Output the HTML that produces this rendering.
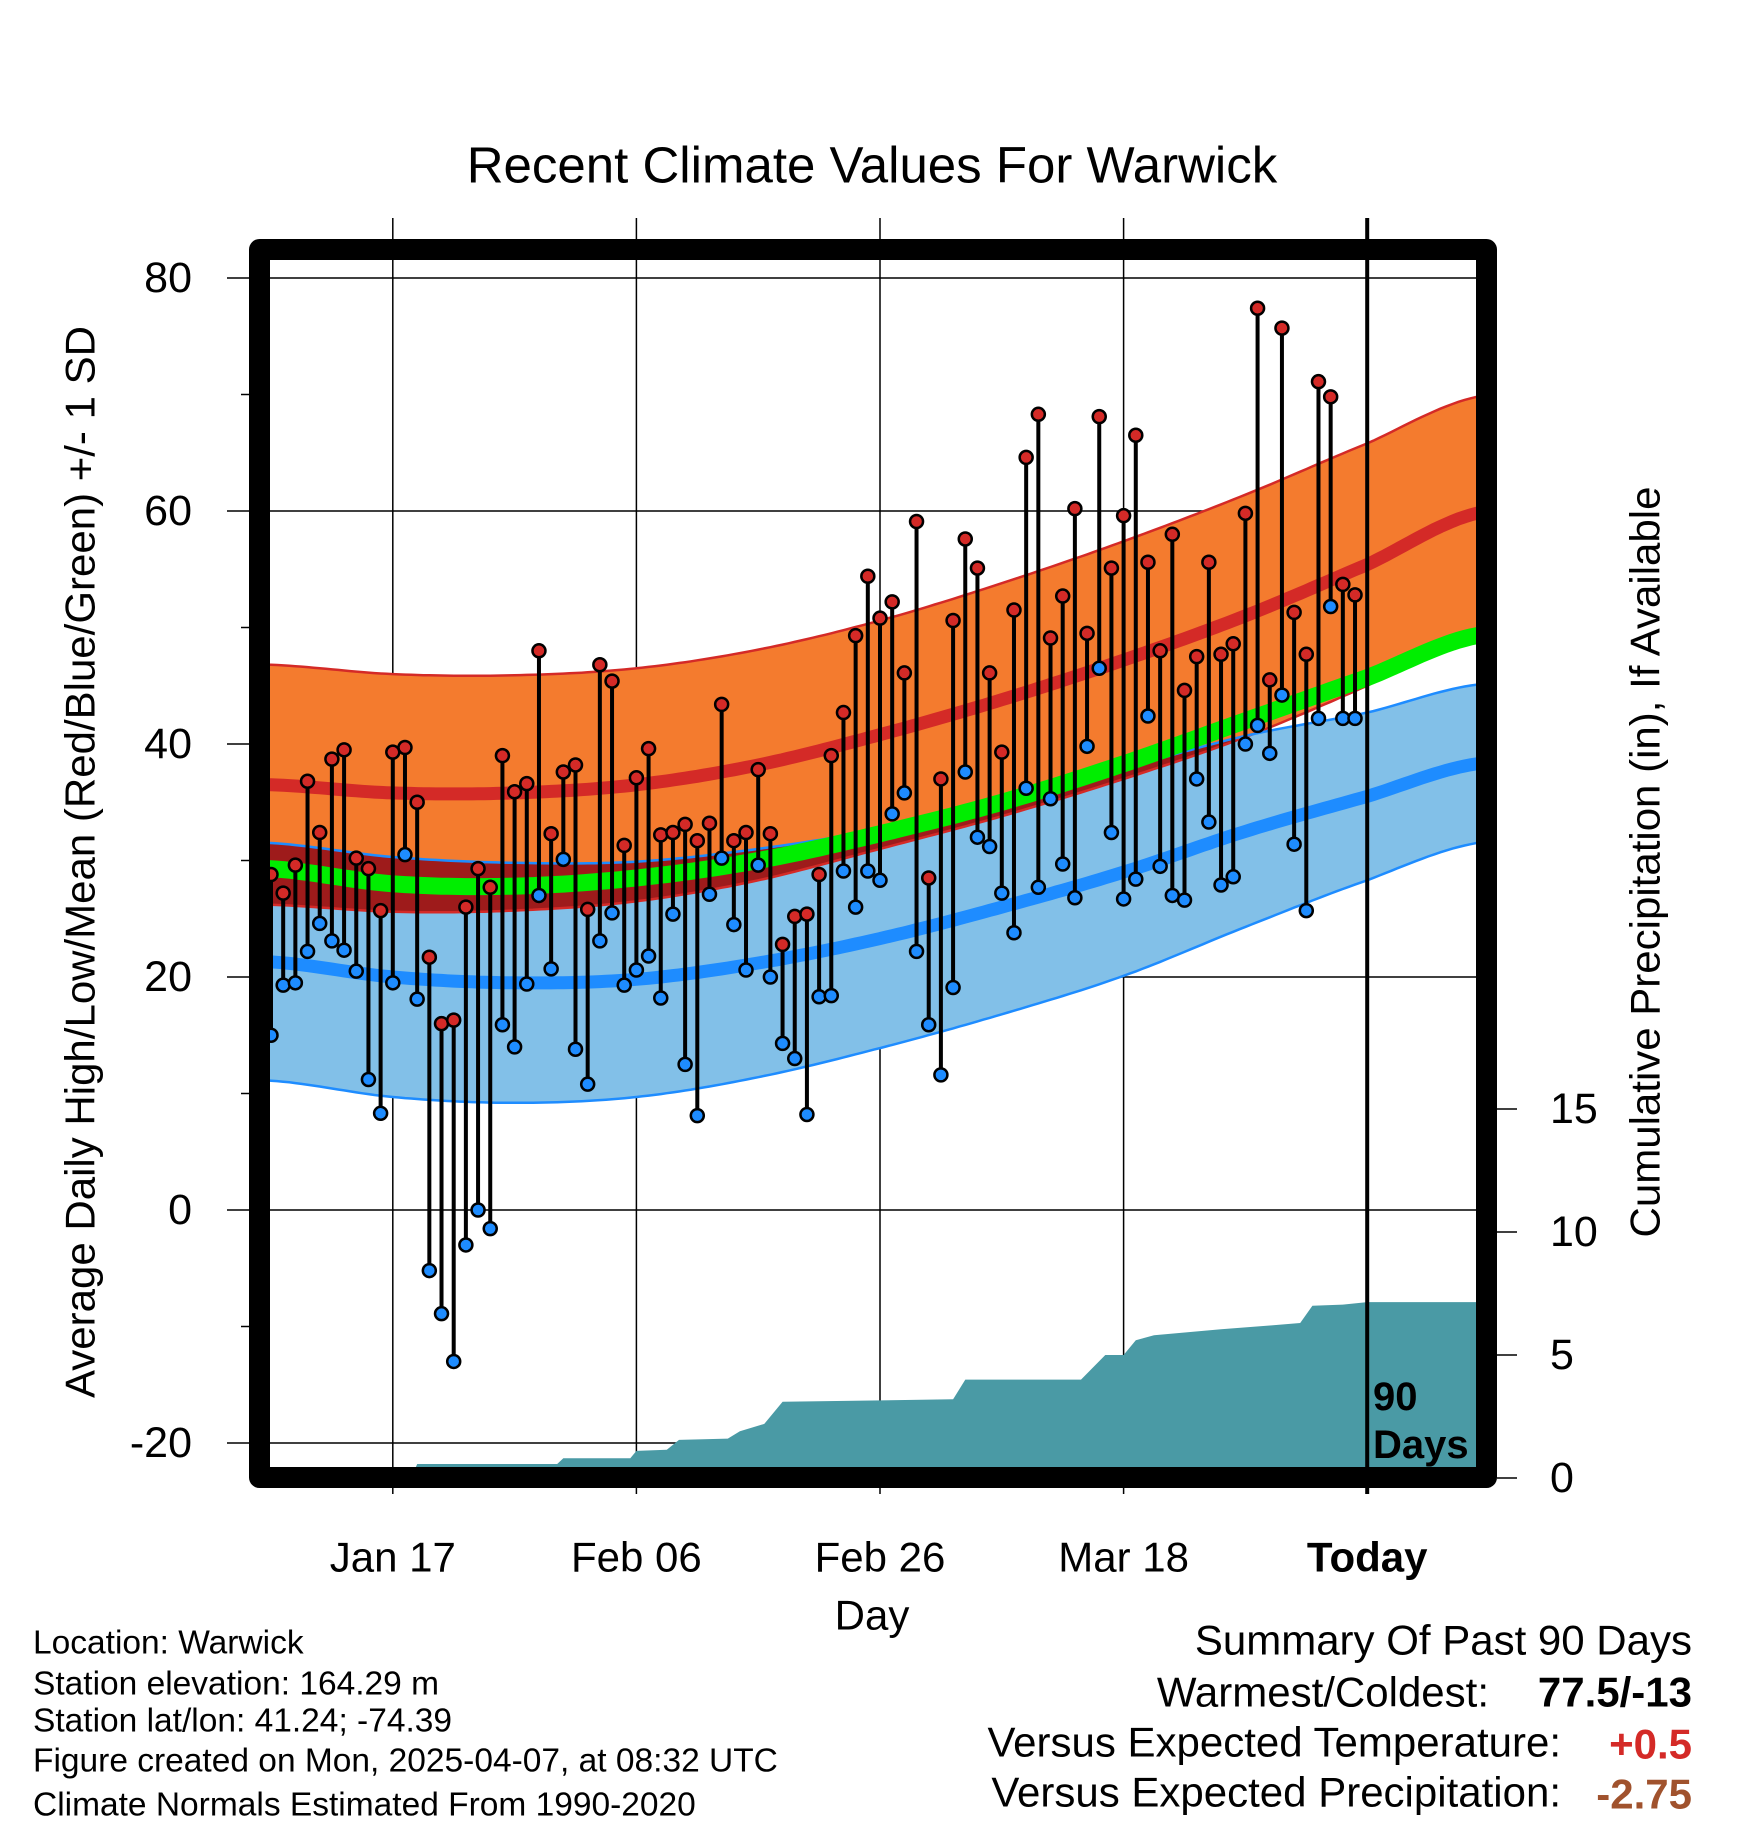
<!DOCTYPE html>
<html><head><meta charset="utf-8"><style>
html,body{margin:0;padding:0;background:#fff}
svg{display:block}
text{font-family:"Liberation Sans",sans-serif;fill:#000}
</style></head><body>
<svg id="c" width="1748" height="1828" viewBox="0 0 1748 1828" xmlns="http://www.w3.org/2000/svg">
<defs><clipPath id="pc"><rect x="270" y="260" width="1206" height="1207"/></clipPath></defs>
<text x="872" y="165" font-size="51" text-anchor="middle" dominant-baseline="central">Recent Climate Values For Warwick</text>
<g id="grid"></g>
<g id="bands" clip-path="url(#pc)"></g>
<g id="precip" clip-path="url(#pc)"></g>
<g id="obs"></g>
<rect x="259.5" y="249.5" width="1227" height="1228" fill="none" stroke="#000" stroke-width="21" stroke-linejoin="round"/>
<g id="axes"></g>
<text x="1373" y="1397" font-size="40" font-weight="bold" dominant-baseline="central">90</text>
<text x="1373" y="1445" font-size="40" font-weight="bold" dominant-baseline="central">Days</text>
<text transform="translate(80,862) rotate(-90)" font-size="42" text-anchor="middle" dominant-baseline="central">Average Daily High/Low/Mean (Red/Blue/Green) +/- 1 SD</text>
<text transform="translate(1645,862) rotate(-90)" font-size="42" text-anchor="middle" dominant-baseline="central">Cumulative Precipitation (in), If Available</text>
<text x="872" y="1615" font-size="42" text-anchor="middle" dominant-baseline="central">Day</text>
<g font-size="33.5">
<text x="33" y="1643" dominant-baseline="central">Location: Warwick</text>
<text x="33" y="1684" dominant-baseline="central">Station elevation: 164.29 m</text>
<text x="33" y="1721" dominant-baseline="central">Station lat/lon: 41.24; -74.39</text>
<text x="33" y="1761" dominant-baseline="central">Figure created on Mon, 2025-04-07, at 08:32 UTC</text>
<text x="33" y="1805" dominant-baseline="central">Climate Normals Estimated From 1990-2020</text>
</g>
<g font-size="42">
<text x="1692" y="1640" text-anchor="end" dominant-baseline="central">Summary Of Past 90 Days</text>
<text x="1489" y="1692" text-anchor="end" dominant-baseline="central">Warmest/Coldest:</text>
<text x="1692" y="1692" text-anchor="end" font-weight="bold" dominant-baseline="central">77.5/-13</text>
<text x="1561" y="1742" text-anchor="end" dominant-baseline="central">Versus Expected Temperature:</text>
<text x="1692" y="1744" text-anchor="end" font-weight="bold" dominant-baseline="central" style="fill:#d42a27">+0.5</text>
<text x="1561" y="1792" text-anchor="end" dominant-baseline="central">Versus Expected Precipitation:</text>
<text x="1692" y="1794" text-anchor="end" font-weight="bold" dominant-baseline="central" style="fill:#a0522d">-2.75</text>
</g>
</svg>
<script>
const highs=[28.8,27.2,29.6,36.8,32.4,38.7,39.5,30.2,29.3,25.7,39.3,39.7,35,21.7,16,16.3,26,29.3,27.7,39,35.9,36.6,48,32.3,37.6,38.2,25.8,46.8,45.4,31.3,37.1,39.6,32.2,32.4,33.1,31.7,33.2,43.4,31.7,32.4,37.8,32.3,22.8,25.2,25.4,28.8,39,42.7,49.3,54.4,50.8,52.2,46.1,59.1,28.5,37,50.6,57.6,55.1,46.1,39.3,51.5,64.6,68.3,49.1,52.7,60.2,49.5,68.1,55.1,59.6,66.5,55.6,48,58,44.6,47.5,55.6,47.7,48.6,59.8,77.4,45.5,75.7,51.3,47.7,71.1,69.8,53.7,52.8];
const lows=[15,19.3,19.5,22.2,24.6,23.1,22.3,20.5,11.2,8.3,19.5,30.5,18.1,-5.2,-8.9,-13,-3,0,-1.6,15.9,14,19.4,27,20.7,30.1,13.8,10.8,23.1,25.5,19.3,20.6,21.8,18.2,25.4,12.5,8.1,27.1,30.2,24.5,20.6,29.6,20,14.3,13,8.2,18.3,18.4,29.1,26,29.1,28.3,34,35.8,22.2,15.9,11.6,19.1,37.6,32,31.2,27.2,23.8,36.2,27.7,35.3,29.7,26.8,39.8,46.5,32.4,26.7,28.4,42.4,29.5,27,26.6,37,33.3,27.9,28.6,40,41.6,39.2,44.2,31.4,25.7,42.2,51.8,42.2,42.2];
const normDays=[0,10,20,30,40,50,60,70,80,90,99];
const highMean=[36.5,35.8,35.8,36.5,38.2,40.8,43.8,47.2,51,55.4,59.8];
const highSD=[10.3,10.2,10.1,10,9.9,9.8,10,10.2,10.4,10.4,10];
const meanTemp=[29.3,28,27.8,28.5,30,32.3,35,38.3,42,45.7,49.3];
const lowMean=[21.3,20,19.5,19.8,21.2,23.3,26,29,32.5,35.5,38.3];
const lowSD=[10.2,10.3,10.3,10.1,9.8,9.4,9.2,8.9,8.2,7.2,6.8];
const precipDays=[11.5,12,23.5,24,29.5,30,32.5,33.5,37.5,38.5,40.5,42,56,57,66.5,68.5,70,71,72.5,78,82,84.5,85.5,88,90,99];
const precipVals=[0,0.57,0.57,0.8,0.8,1.1,1.15,1.55,1.6,1.9,2.2,3.1,3.2,4.0,4.0,5.0,5.0,5.6,5.8,6.05,6.2,6.3,7.0,7.05,7.15,7.15];
const yTicks=[80,60,40,20,0,-20];
const xTickDays=[10,30,50,70,90];
const xTickLabels=["Jan 17","Feb 06","Feb 26","Mar 18","Today"];
const pTicks=[0,5,10,15];

const NS="http://www.w3.org/2000/svg";
const X=d=>271+d*12.18;
const Y=v=>278+(80-v)*11.65;
const P=v=>1478-v*24.6;
function el(t,a,p){const e=document.createElementNS(NS,t);for(const k in a)e.setAttribute(k,a[k]);p.appendChild(e);return e;}
function interp(arr,d){for(let i=0;i<normDays.length-1;i++){if(d<=normDays[i+1]){const t=(d-normDays[i])/(normDays[i+1]-normDays[i]);const a=i>0?arr[i-1]:arr[i],b=arr[i],c=arr[i+1],e=i+2<arr.length?arr[i+2]:arr[i+1];
const t2=t*t,t3=t2*t;return 0.5*((2*b)+(-a+c)*t+(2*a-5*b+4*c-e)*t2+(-a+3*b-3*c+e)*t3);}}return arr[arr.length-1];}
const ds=[];for(let d=-1;d<=100;d+=0.5)ds.push(d);
const curve=f=>ds.map(d=>[X(d),Y(f(d))]);
const pstr=pts=>pts.map(p=>p[0].toFixed(1)+","+p[1].toFixed(1)).join(" ");
const grid=document.getElementById('grid'),bands=document.getElementById('bands'),pr=document.getElementById('precip'),obs=document.getElementById('obs'),axes=document.getElementById('axes');

yTicks.forEach(v=>{const g=el('line',{x1:227,x2:1478,y1:Y(v),y2:Y(v),stroke:'#000','stroke-width':1.5},grid);

const t=el('text',{x:192,y:Y(v),'font-size':43,'text-anchor':'end','dominant-baseline':'central'},axes);t.textContent=v;
});
[70,50,30,10,-10].forEach(v=>{const m=el('line',{x1:241,x2:250,y1:Y(v),y2:Y(v),stroke:'#000','stroke-width':1.5},axes);
});
xTickDays.forEach((d,i)=>{const l=el('line',{x1:X(d),x2:X(d),y1:218,y2:1494,stroke:'#000','stroke-width':i==4?4:1.5},i==4?obs:grid);

const t=el('text',{x:X(d),y:1557,'font-size':42,'text-anchor':'middle','dominant-baseline':'central','font-weight':i==4?'bold':'normal'},axes);t.textContent=xTickLabels[i];
});
pTicks.forEach(v=>{const l=el('line',{x1:1497,x2:1517,y1:P(v),y2:P(v),stroke:'#000','stroke-width':1.5},axes);

const t=el('text',{x:1550,y:P(v),'font-size':43,'dominant-baseline':'central'},axes);t.textContent=v;
});

const hU=d=>interp(highMean,d)+interp(highSD,d),hL=d=>interp(highMean,d)-interp(highSD,d);
const lU=d=>interp(lowMean,d)+interp(lowSD,d),lL=d=>interp(lowMean,d)-interp(lowSD,d);
let p=el('polygon',{points:pstr(curve(hU).concat(curve(hL).reverse())),fill:'#f47b2e'},bands);

p=el('polygon',{points:pstr(curve(lU).concat(curve(lL).reverse())),fill:'#82c0e8'},bands);

const ov=curve(d=>Math.max(lU(d),hL(d))).concat(curve(hL).reverse());
p=el('polygon',{points:pstr(ov),fill:'#9e1b1b'},bands);

[[hU,'#d42a27',2.5,'high-upper-edge'],[hL,'#d42a27',2.5,'high-lower-edge'],[lU,'#1e8cff',2.5,'low-upper-edge'],[lL,'#1e8cff',2.5,'low-lower-edge'],
 [d=>interp(highMean,d),'#d42a27',13,'high-mean-line'],[d=>interp(lowMean,d),'#1e8cff',13,'low-mean-line'],[d=>interp(meanTemp,d),'#00ee00',17,'mean-line']].forEach(c=>{
 const l=el('polyline',{points:pstr(curve(c[0])),fill:'none',stroke:c[1],'stroke-width':c[2]},bands);
 });

let pp=[[X(precipDays[0]),P(0)]];
for(let i=0;i<precipDays.length;i++)pp.push([X(precipDays[i]),P(precipVals[i])]);
pp.push([X(precipDays[precipDays.length-1]),P(0)]);pp.push([X(precipDays[precipDays.length-1]),1470]);pp.push([X(precipDays[0]),1470]);
p=el('polygon',{points:pstr(pp),fill:'#4a9aa5'},pr);


highs.forEach((h,i)=>{const l=el('line',{x1:X(i),x2:X(i),y1:Y(h),y2:Y(lows[i]),stroke:'#000','stroke-width':4},obs);
});
highs.forEach((h,i)=>{
 const a=el('circle',{cx:X(i),cy:Y(lows[i]),r:6.5,fill:'#1e8cff',stroke:'#000','stroke-width':2.5},obs);
 
 const b=el('circle',{cx:X(i),cy:Y(h),r:6.5,fill:'#d42a27',stroke:'#000','stroke-width':2.5},obs);
 });
</script>
</body></html>
